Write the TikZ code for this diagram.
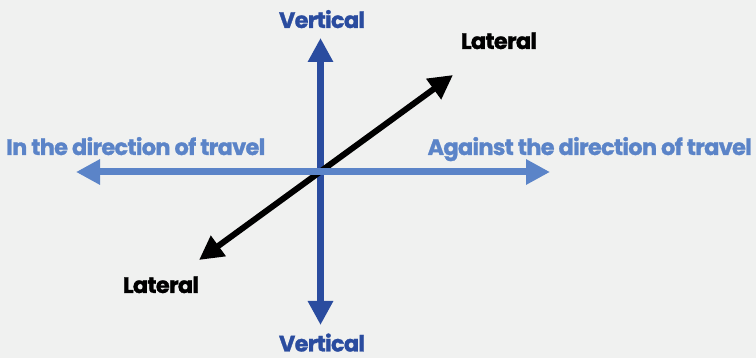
\documentclass[tikz,border=0pt]{standalone}
\usepackage{fontspec}
\setmainfont{Poppins}[BoldFeatures={FakeBold=1.2,LetterSpace=-3}]
\usetikzlibrary{arrows.meta}
\definecolor{bg}{HTML}{F0F1F0}
\definecolor{darkblue}{HTML}{2A4C9F}
\definecolor{lightblue}{HTML}{5B84C8}
\tikzset{
  axisarrow/.style={line width=7pt,-{Triangle[width=24pt,length=24pt]}},
  lbl/.style={font=\bfseries\fontsize{22.4}{25}\selectfont, inner sep=0pt},
}
\begin{document}
\begin{tikzpicture}[x=1pt,y=-1pt]
\fill[bg] (0,0) rectangle (756,358);
\useasboundingbox (0,0) rectangle (756,358);
\coordinate (c) at (320.5,172);
\coordinate (vt) at (320.5,38);
\coordinate (vb) at (320.5,325);
\coordinate (hl) at (76,172);
\coordinate (hr) at (550,172);
\coordinate (dt) at (453,75);
\coordinate (db) at (199,260);
\draw[axisarrow,darkblue] (c) -- (vt);
\draw[axisarrow,darkblue] (c) -- (vb);
\draw[line width=6pt,black,{Triangle[width=24pt,length=24pt]}-{Triangle[width=24pt,length=24pt]}] (db) -- (dt);
\draw[axisarrow,lightblue] (c) -- (hl);
\draw[axisarrow,lightblue] (c) -- (hr);
\node[lbl,text=darkblue,anchor=base] (vtop) at (322,28) {Vertical};
\node[lbl,text=darkblue,anchor=base] (vbot) at (322,351.5) {Vertical};
\node[lbl,text=black,anchor=base] (ltop) at (499,49) {Lateral};
\node[lbl,text=black,anchor=base] (lbot) at (161,293) {Lateral};
\node[lbl,text=lightblue,anchor=base west] (left) at (6,155) {In the direction of travel};
\node[lbl,text=lightblue,anchor=base east] (right) at (752,155) {Against the direction of travel};
\end{tikzpicture}
\end{document}
